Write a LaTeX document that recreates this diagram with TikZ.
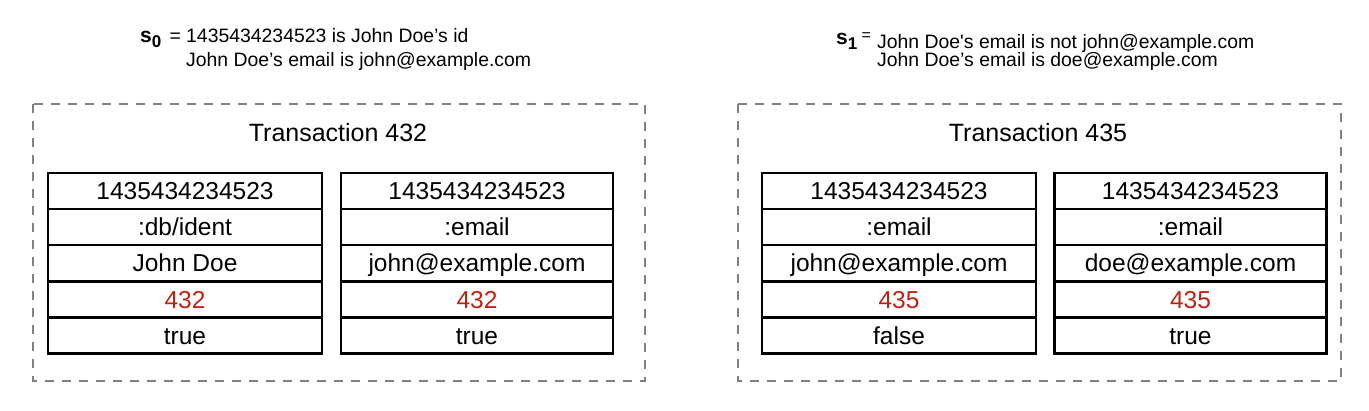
\documentclass[tikz,border=0pt]{standalone}
\usepackage{fontspec}
\setmainfont{Liberation Sans}
\newfontfamily\rawfont{Liberation Sans}[Ligatures=TeXOff]
\definecolor{tred}{RGB}{192,32,16}
\definecolor{dgray}{RGB}{128,128,128}
\begin{document}
\begin{tikzpicture}[x=1pt,y=-1pt,
  cell/.style={draw=black, line width=2.5pt, minimum height=36pt, inner sep=0pt,
    font=\fontsize{24.5}{28}\selectfont, text height=17.5pt, text depth=0pt},
  cellA/.style={cell, minimum width=274pt},
  cellB/.style={cell, minimum width=272pt},
  redtxt/.style={text=tred},
  txbox/.style={draw=dgray, line width=1.5pt, dash pattern=on 9pt off 8pt},
  title/.style={anchor=base, font=\fontsize{25}{30}\selectfont, inner sep=0pt},
  toptxt/.style={anchor=base west, font=\fontsize{19.4}{23}\selectfont, inner sep=0pt},
  slabel/.style={anchor=base west, font=\fontsize{21}{25}\selectfont\bfseries, inner sep=0pt}
]
\useasboundingbox (0,0) rectangle (1369,411);
% dashed transaction boxes
\draw[txbox] (33,104) rectangle (645,381);
\draw[txbox] (738,104) rectangle (1341,381);
\node[title] (t432) at (338,142) {Transaction 432};
\node[title] (t435) at (1038,142) {Transaction 435};

% top statements
\node[slabel] (s0) at (140,43) {s\raisebox{-4.5pt}{\fontsize{17}{20}\selectfont 0}};
\node[toptxt] (s0eq) at (169.5,43) {=};
\node[toptxt] (s0a) at (186,43) {1435434234523 is John Doe’s id};
\node[toptxt] (s0b) at (186,67) {John Doe’s email is john@example.com};

\node[slabel] (s1) at (836,45) {s\raisebox{-4.5pt}{\fontsize{17}{20}\selectfont 1}};
\node[toptxt] (s1eq) at (861.5,41) {\fontsize{16}{18}\selectfont =};
\node[toptxt] (s1a) at (877,49) {{\rawfont John Doe's email is not john@example.com}};
\node[toptxt] (s1b) at (877,67) {John Doe’s email is doe@example.com};

% table 1
\node[cellA] (a1) at (185,191) {1435434234523};
\node[cellA] (a2) at (185,227) {:db/ident};
\node[cellA] (a3) at (185,263) {John Doe};
\node[cellA,redtxt] (a4) at (185,299.5) {432};
\node[cellA] (a5) at (185,335.5) {true};
% table 2
\node[cellB] (b1) at (477,191) {1435434234523};
\node[cellB] (b2) at (477,227) {:email};
\node[cellB] (b3) at (477,263) {john@example.com};
\node[cellB,redtxt] (b4) at (477,299.5) {432};
\node[cellB] (b5) at (477,335.5) {true};
% table 3
\node[cellA] (c1) at (899,191) {1435434234523};
\node[cellA] (c2) at (899,227) {:email};
\node[cellA] (c3) at (899,263) {john@example.com};
\node[cellA,redtxt] (c4) at (899,299.5) {435};
\node[cellA] (c5) at (899,335.5) {false};
% table 4
\node[cellB] (d1) at (1190.5,191) {1435434234523};
\node[cellB] (d2) at (1190.5,227) {:email};
\node[cellB] (d3) at (1190.5,263) {doe@example.com};
\node[cellB,redtxt] (d4) at (1190.5,299.5) {435};
\node[cellB] (d5) at (1190.5,335.5) {true};
\end{tikzpicture}
\end{document}
